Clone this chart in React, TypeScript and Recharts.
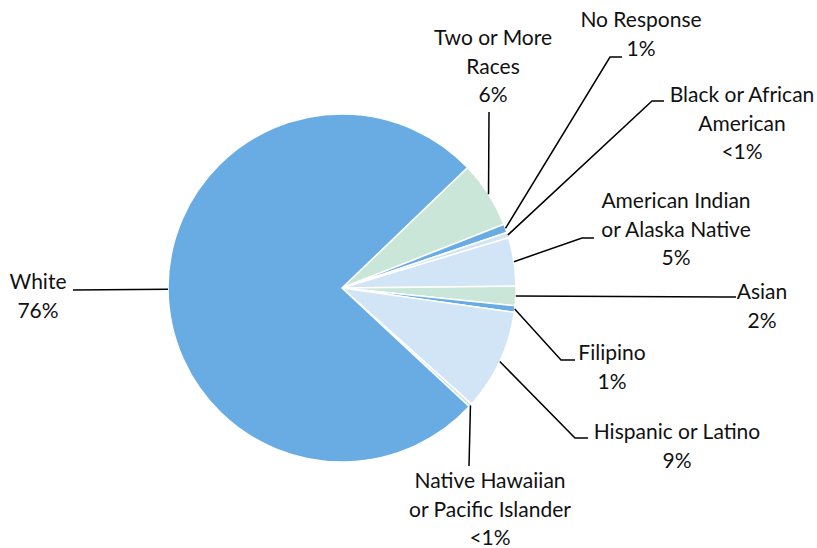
import { PieChart, Pie, Cell } from "recharts";

// slices listed clockwise, starting at the White / Two or More boundary
const categories = [
  "Two or More Races",
  "No Response",
  "Black or African American",
  "American Indian or Alaska Native",
  "Asian",
  "Filipino",
  "Hispanic or Latino",
  "Native Hawaiian or Pacific Islander",
  "White",
];
const shares = [6.2, 0.8, 0.5, 4.5, 1.8, 0.6, 9.4, 0.3, 75.9];
const shareLabels = ["6%", "1%", "<1%", "5%", "2%", "1%", "9%", "<1%", "76%"];
const nameLines = [
  ["Two or More", "Races"],
  ["No Response"],
  ["Black or African", "American"],
  ["American Indian", "or Alaska Native"],
  ["Asian"],
  ["Filipino"],
  ["Hispanic or Latino"],
  ["Native Hawaiian", "or Pacific Islander"],
  ["White"],
];

const BLUE = "#69ace3";
const LIGHT_BLUE = "#d2e5f6";
const GREEN = "#c9e6d9";
const sliceColors = [GREEN, BLUE, LIGHT_BLUE, LIGHT_BLUE, GREEN, BLUE, LIGHT_BLUE, GREEN, BLUE];

// label placement: text centre x, first baseline y, leader elbow and end
const labelLayout = [
  { x: 493, y: 45, elbow: [489, 112], end: [489, 112] },
  { x: 641, y: 27, elbow: [610, 57], end: [622, 57] },
  { x: 742, y: 102, elbow: [652, 101], end: [664, 101] },
  { x: 676, y: 208, elbow: [582, 238], end: [594, 238] },
  { x: 762, y: 299, elbow: [724, 297], end: [736, 297] },
  { x: 612, y: 360, elbow: [561, 360], end: [575, 360] },
  { x: 677, y: 439, elbow: [575, 438], end: [588, 438] },
  { x: 490, y: 488, elbow: [469, 466], end: [469, 466] },
  { x: 38, y: 289, elbow: [73, 290], end: [73, 290] },
];

const data = categories.map((name, i) => ({ name, value: shares[i] }));

const RADIAN = Math.PI / 180;
const LINE_GAP = 28.5;

const renderLabel = (props: any) => {
  const { cx, cy, midAngle, outerRadius, index } = props;
  const layout = labelLayout[index];
  const sx = cx + outerRadius * Math.cos(-midAngle * RADIAN);
  const sy = cy + outerRadius * Math.sin(-midAngle * RADIAN);
  const lines = [...nameLines[index], shareLabels[index]];
  return (
    <g key={`lbl-${index}`}>
      <polyline
        points={`${sx},${sy} ${layout.elbow[0]},${layout.elbow[1]} ${layout.end[0]},${layout.end[1]}`}
        fill="none"
        stroke="#000"
        strokeWidth={1.5}
      />
      <text
        x={layout.x}
        y={layout.y}
        textAnchor="middle"
        fontFamily="Lato, sans-serif"
        fontSize={21}
        fill="#111"
      >
        {lines.map((line, j) => (
          <tspan key={j} x={layout.x} dy={j === 0 ? 0 : LINE_GAP}>
            {line}
          </tspan>
        ))}
      </text>
    </g>
  );
};

export default function App() {
  return (
    <div style={{ position: "absolute", left: 0, top: 0, background: "#fff" }}>
      <PieChart width={817} height={548} margin={{ top: 0, right: 0, bottom: 0, left: 0 }}>
        <Pie
          data={data}
          dataKey="value"
          nameKey="name"
          cx={342}
          cy={288}
          outerRadius={174}
          startAngle={43.8}
          endAngle={-316.2}
          stroke="#fff"
          strokeWidth={1.5}
          label={renderLabel}
          labelLine={false}
          isAnimationActive={false}
        >
          {data.map((d, i) => (
            <Cell key={d.name} fill={sliceColors[i]} />
          ))}
        </Pie>
      </PieChart>
    </div>
  );
}
